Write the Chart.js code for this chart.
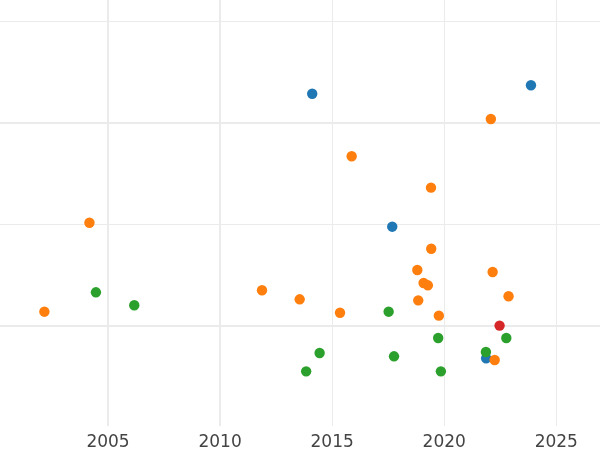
<!DOCTYPE html>
<html>
<head>
<meta charset="utf-8">
<script src="https://cdn.jsdelivr.net/npm/chart.js@4"></script>
<style>
  html, body { margin: 0; padding: 0; background: #ffffff; }
  #wrap { width: 600px; height: 450px; position: relative; }
</style>
</head>
<body>
<div id="wrap"><canvas id="c"></canvas></div>
<script>
// ---- data ----
const xTicks = [2005, 2010, 2015, 2020, 2025];
const yTicks = [0, 1, 2, 3];

const blueX = [2014.11, 2023.87, 2017.68, 2021.87];
const blueY = [2.286, 2.369, 0.975, -0.322];

const orangeX = [2002.16, 2004.17, 2011.87, 2013.55, 2015.35, 2015.87, 2019.41, 2022.08, 2019.42,
                 2018.80, 2019.08, 2019.27, 2018.84, 2019.76, 2022.16, 2022.87, 2022.25];
const orangeY = [0.137, 1.014, 0.348, 0.259, 0.127, 1.669, 1.360, 2.037, 0.758,
                 0.548, 0.420, 0.397, 0.249, 0.098, 0.528, 0.289, -0.339];

const greenX = [2004.46, 2006.17, 2013.84, 2014.44, 2017.52, 2017.76, 2019.73, 2019.85, 2021.86, 2022.77];
const greenY = [0.328, 0.200, -0.451, -0.270, 0.137, -0.303, -0.122, -0.451, -0.260, -0.122];

const redX = [2022.47];
const redY = [0.0];

function pts(xs, ys) { return xs.map((x, i) => ({ x: x, y: ys[i] })); }

const thickX = [2005, 2010];
const thickY = [0, 2];

new Chart(document.getElementById('c'), {
  type: 'scatter',
  data: {
    datasets: [
      { label: 'blue', data: pts(blueX, blueY), backgroundColor: '#1f77b4', order: 4 },
      { label: 'orange', data: pts(orangeX, orangeY), backgroundColor: '#ff7f0e', order: 3 },
      { label: 'green', data: pts(greenX, greenY), backgroundColor: '#2ca02c', order: 2 },
      { label: 'red', data: pts(redX, redY), backgroundColor: '#d62728', order: 1 }
    ]
  },
  options: {
    responsive: true,
    maintainAspectRatio: false,
    animation: false,
    events: [],
    layout: { padding: 0, autoPadding: false },
    elements: { point: { radius: 5.2, borderWidth: 0, hoverRadius: 5.2 } },
    plugins: { legend: { display: false }, tooltip: { enabled: false } },
    scales: {
      x: {
        type: 'linear',
        min: 2000.18,
        max: 2026.95,
        afterBuildTicks: (s) => { s.ticks = xTicks.map(v => ({ value: v })); },
        afterFit: (s) => { s.height = 24; },
        border: { display: false },
        grid: {
          drawTicks: false,
          color: '#ebebeb',
          lineWidth: (ctx) => (ctx.tick && thickX.includes(ctx.tick.value)) ? 2 : 1
        },
        ticks: {
          padding: 6,
          color: '#444444',
          font: { family: 'DejaVu Sans', size: 17 },
          maxRotation: 0,
          callback: (v) => String(v)
        }
      },
      y: {
        type: 'linear',
        min: -0.99,
        max: 3.21,
        display: true,
        afterBuildTicks: (s) => { s.ticks = yTicks.map(v => ({ value: v })); },
        afterFit: (s) => { s.width = 0; },
        border: { display: false },
        grid: {
          drawTicks: false,
          color: '#ebebeb',
          lineWidth: (ctx) => (ctx.tick && thickY.includes(ctx.tick.value)) ? 2 : 1
        },
        ticks: { display: false }
      }
    }
  }
});
</script>
</body>
</html>
